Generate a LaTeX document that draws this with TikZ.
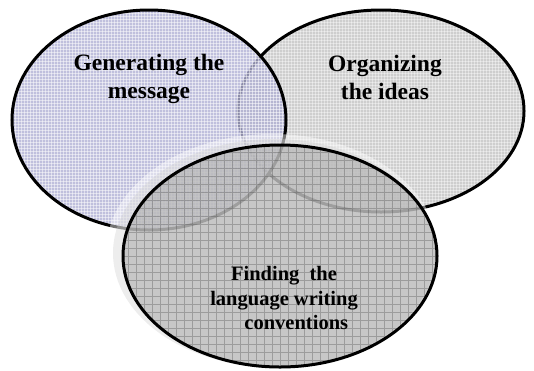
\documentclass[tikz,border=0pt]{standalone}
\usepackage{fontspec}
\setmainfont{Liberation Serif}
\usetikzlibrary{patterns}

\definecolor{lavender}{RGB}{176,176,212}
\definecolor{lightgrey}{RGB}{206,206,206}
\definecolor{midgrey}{RGB}{168,168,168}

\begin{document}
\begin{tikzpicture}[x=1pt,y=-1pt,
                    ring/.style={draw=black,line width=3pt},
                    label node/.style={font=\bfseries\fontsize{23.5}{28}\selectfont,align=center,inner sep=0pt}]
  \useasboundingbox (0,0) rectangle (534,370);

  % Organizing the ideas
  \fill[lightgrey] (381,111) ellipse [x radius=143pt, y radius=101pt];
  \fill[pattern=grid,pattern color=white,opacity=0.4] (381,111) ellipse [x radius=143pt, y radius=101pt];
  \draw[ring] (381,111) ellipse [x radius=143pt, y radius=101pt];

  % Generating the message
  \fill[lavender,opacity=0.8] (149,120) ellipse [x radius=137pt, y radius=110pt];
  \fill[pattern=grid,pattern color=white,opacity=0.5] (149,120) ellipse [x radius=137pt, y radius=110pt];
  \draw[ring] (149,120) ellipse [x radius=137pt, y radius=110pt];

  % glow behind the third ring
  \fill[white,opacity=0.45] (272,252) ellipse [x radius=166pt, y radius=118pt];
  \fill[gray!40,opacity=0.35] (274,253) ellipse [x radius=161pt, y radius=114pt];

  % Finding the language writing conventions
  \fill[midgrey,opacity=0.55] (280,256) ellipse [x radius=157pt, y radius=111pt];
  \begin{scope}
    \clip (280,256) ellipse [x radius=157pt, y radius=111pt];
    \draw[gray!60!black,opacity=0.35,line width=0.6pt,step=8pt] (120,140) grid (440,370);
  \end{scope}
  \draw[ring] (280,256) ellipse [x radius=157pt, y radius=111pt];

  \node[label node] (gen) at (149,79) {Generating the\\message};
  \node[label node] (org) at (385,77) {Organizing\\the ideas};
  \node[label node,font=\bfseries\fontsize{20.5}{24.5}\selectfont] (find) at (284,298)
    {Finding\ \ the\\language writing\\\hspace*{1.2em}conventions};
\end{tikzpicture}
\end{document}
